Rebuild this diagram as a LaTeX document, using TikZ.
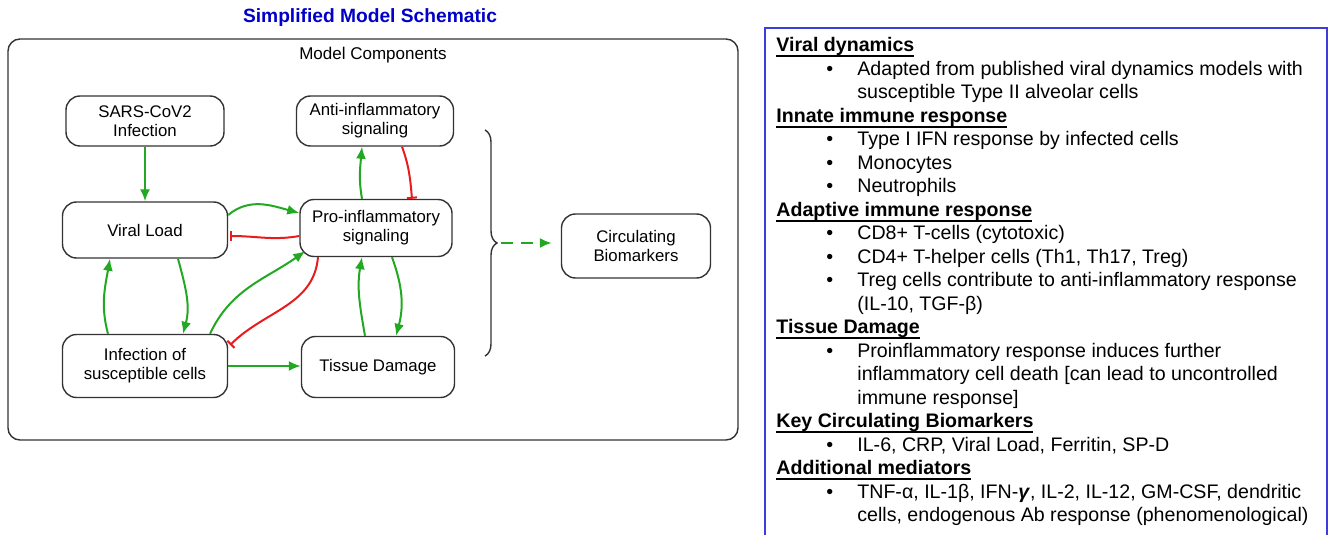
\documentclass[tikz,border=0pt]{standalone}
\usepackage{fontspec}
\setmainfont{Liberation Sans}
\usetikzlibrary{arrows.meta,decorations.pathreplacing}

\definecolor{actgreen}{RGB}{34,168,34}
\definecolor{inhred}{RGB}{232,28,28}
\definecolor{titleblue}{RGB}{0,0,200}
\definecolor{frameblue}{RGB}{60,60,225}

\newcommand{\infohead}[1]{\setbox0\hbox{\textbf{#1}}\rlap{\rule[-2.8pt]{\wd0}{1pt}}\box0}
\newcommand{\infoitem}[1]{\hspace*{25pt}\makebox[15.5pt][l]{\textbullet}#1}
\newcommand{\infocont}[1]{\hspace*{40.5pt}#1}

\tikzset{
  comp/.style={draw=black!80, line width=0.7pt, rounded corners=7pt, align=center,
    font=\fontsize{8.4}{9.6}\selectfont, inner sep=1pt},
  act/.style={draw=actgreen, line width=1pt, -{Latex[length=6pt,width=5pt]}},
  inh/.style={draw=inhred, line width=1pt, -{Bar[width=5pt,line width=1pt]}},
}

\begin{document}
\begin{tikzpicture}[x=0.5pt, y=0.5pt]
        \useasboundingbox (0,0) rectangle (1329,-535);

        % Schema
        \node[font=\fontsize{9.6}{11}\selectfont\bfseries, text=titleblue] (title) at (370,-18) {Simplified Model Schematic};
        \draw[black!80, line width=0.7pt, rounded corners=6pt] (8,-39) rectangle (738,-440);
        \node[font=\fontsize{8.5}{10}\selectfont] (modelcomp) at (373,-55) {Model Components};

        % Komponenty
        \node[comp, minimum width=79pt, minimum height=25pt] (sars) at (145,-121) {SARS-CoV2\\Infection};
        \node[comp, minimum width=78.5pt, minimum height=25pt] (anti) at (375,-121) {Anti-inflammatory\\signaling};
        \node[comp, minimum width=82.5pt, minimum height=28pt] (viral) at (145,-230) {Viral Load};
        \node[comp, minimum width=76pt, minimum height=28.5pt] (pro) at (376,-228) {Pro-inflammatory\\signaling};
        \node[comp, minimum width=82.5pt, minimum height=31.5pt] (infect) at (145,-366) {Infection of\\susceptible cells};
        \node[comp, minimum width=76.5pt, minimum height=30.5pt] (tissue) at (378,-367) {Tissue Damage};
        \node[comp, minimum width=74.5pt, minimum height=32pt] (biomark) at (636,-246) {Circulating\\Biomarkers};

        % Aktywacja
        \draw[act] (sars) -- (viral);
        \draw[act] ([yshift=7.5pt]viral.east) to[out=40,in=165] ([yshift=7.5pt]pro.west);
        \draw[act] ([xshift=16.5pt]viral.south) to[out=-75,in=75] ([xshift=19pt]infect.north);
        \draw[act] ([xshift=-18.5pt]infect.north) to[out=105,in=-100] ([xshift=-17.5pt]viral.south);
        \draw[act] ([xshift=32.5pt]infect.north) to[out=65,in=215] ([xshift=3pt,yshift=3pt]pro.south west);
        \draw[act] (infect.east) -- (infect.east -| tissue.west);
        \draw[act] ([xshift=-6.5pt]tissue.north) to[out=100,in=-100] ([xshift=-7pt]pro.south);
        \draw[act] ([xshift=8pt]pro.south) to[out=-70,in=75] ([xshift=9pt]tissue.north);
        \draw[act] ([xshift=-7pt]pro.north) to[out=100,in=-95] ([xshift=-6.5pt]anti.south);

        % Hamowanie
        \draw[inh] ([yshift=-4pt]pro.west) to[out=190,in=0] ([xshift=1pt,yshift=-3pt]viral.east);
        \draw[inh] ([xshift=-29pt]pro.south) to[out=-95,in=45] ([xshift=1pt,yshift=10.5pt]infect.east);
        \draw[inh] ([xshift=13.5pt]anti.south) to[out=-70,in=95] ([xshift=18pt]pro.north);

        % Klamra i biomarkery
        \draw[black!80, line width=0.7pt, decorate, decoration={brace, amplitude=6pt}] (485,-130) -- (485,-356);
        \coordinate (bracetip) at (501,-243);
        \draw[act, dashed, dash pattern=on 6pt off 4pt, shorten >=4.5pt] (bracetip) -- (bracetip -| biomark.west);

        % Opis modelu
        \draw[frameblue, line width=0.6pt] (765,-540) -- (765,-28) -- (1327,-28) -- (1327,-540);
        \node[anchor=north west, inner sep=0pt, align=left, font=\fontsize{9.8}{11.75}\selectfont] (info) at (776,-37) {%
          \infohead{Viral dynamics}\\
          \infoitem{Adapted from published viral dynamics models with}\\
          \infocont{susceptible Type II alveolar cells}\\
          \infohead{Innate immune response}\\
          \infoitem{Type I IFN response by infected cells}\\
          \infoitem{Monocytes}\\
          \infoitem{Neutrophils}\\
          \infohead{Adaptive immune response}\\
          \infoitem{CD8+ T-cells (cytotoxic)}\\
          \infoitem{CD4+ T-helper cells (Th1, Th17, Treg)}\\
          \infoitem{Treg cells contribute to anti-inflammatory response}\\
          \infocont{(IL-10, TGF-β)}\\
          \infohead{Tissue Damage}\\
          \infoitem{Proinflammatory response induces further}\\
          \infocont{inflammatory cell death [can lead to uncontrolled}\\
          \infocont{immune response]}\\
          \infohead{Key Circulating Biomarkers}\\
          \infoitem{IL-6, CRP, Viral Load, Ferritin, SP-D}\\
          \infohead{Additional mediators}\\
          \infoitem{TNF-α, IL-1β, IFN-\textbf{\textit{γ}}, IL-2, IL-12, GM-CSF, dendritic}\\
          \infocont{cells, endogenous Ab response (phenomenological)}};
    \end{tikzpicture}
\end{document}
